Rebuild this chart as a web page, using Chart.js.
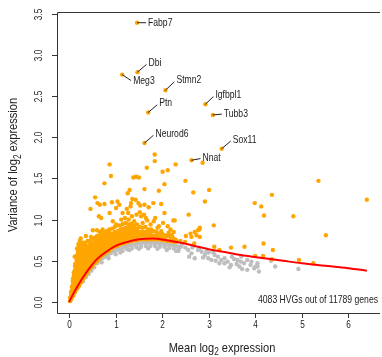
<!DOCTYPE html>
<html>
<head>
<meta charset="utf-8">
<script src="https://cdn.jsdelivr.net/npm/chart.js@4.4.1/dist/chart.umd.min.js"></script>
<style>
  html, body { margin: 0; padding: 0; background: #fff; }
  #wrap { width: 382px; height: 357px; }
</style>
</head>
<body>
<div id="wrap"><canvas id="hvgChart" width="382" height="357"></canvas></div>
<script>
// Fitted mean-variance trend (red line)
const trendMean = [0, 0.1, 0.2, 0.3, 0.45, 0.6, 0.8, 1.0, 1.2, 1.5, 1.8, 2.1, 2.4, 2.7, 3.0, 3.4, 3.8, 4.2, 4.6, 5.0, 5.5, 6.0, 6.4];
const trendVar  = [0, 0.11, 0.21, 0.30, 0.42, 0.52, 0.61, 0.68, 0.72, 0.76, 0.77, 0.75, 0.72, 0.68, 0.64, 0.60, 0.56, 0.53, 0.50, 0.47, 0.44, 0.41, 0.38];

// Dense HVG band just above the trend: [mean, [variances]]
const hvgColumns = [
  [0.02, [0.01, 0.05]],
  [0.04, [0.03, 0.075, 0.12]],
  [0.06, [0.05, 0.095, 0.14, 0.185]],
  [0.08, [0.07, 0.115, 0.16, 0.205, 0.25, 0.28]],
  [0.10, [0.09, 0.135, 0.18, 0.225, 0.27, 0.315, 0.36]],
  [0.13, [0.12, 0.165, 0.21, 0.255, 0.30, 0.345, 0.39, 0.435, 0.46]],
  [0.16, [0.15, 0.195, 0.24, 0.285, 0.33, 0.375, 0.42, 0.465, 0.51, 0.56]],
  [0.19, [0.18, 0.225, 0.27, 0.315, 0.36, 0.405, 0.45, 0.495, 0.54, 0.585, 0.62]],
  [0.22, [0.20, 0.245, 0.29, 0.335, 0.38, 0.425, 0.47, 0.515, 0.56, 0.605, 0.66]],
  [0.26, [0.24, 0.285, 0.33, 0.375, 0.42, 0.465, 0.51, 0.555, 0.60, 0.645, 0.70]],
  [0.30, [0.28, 0.325, 0.37, 0.415, 0.46, 0.505, 0.55, 0.595, 0.64, 0.685, 0.72]],
  [0.35, [0.32, 0.365, 0.41, 0.455, 0.50, 0.545, 0.59, 0.635, 0.68, 0.72]],
  [0.40, [0.36, 0.405, 0.45, 0.495, 0.54, 0.585, 0.63, 0.675, 0.74]],
  [0.45, [0.40, 0.445, 0.49, 0.535, 0.58, 0.625, 0.67, 0.715, 0.74]],
  [0.50, [0.43, 0.475, 0.52, 0.565, 0.61, 0.655, 0.70, 0.76]],
  [0.55, [0.47, 0.515, 0.56, 0.605, 0.65, 0.695, 0.74, 0.78]],
  [0.60, [0.50, 0.545, 0.59, 0.635, 0.68, 0.725, 0.77, 0.80]],
  [0.65, [0.53, 0.575, 0.62, 0.665, 0.71, 0.755, 0.80]],
  [0.70, [0.56, 0.605, 0.65, 0.695, 0.74, 0.785, 0.82]],
  [0.75, [0.58, 0.625, 0.67, 0.715, 0.76, 0.805, 0.84]],
  [0.80, [0.60, 0.645, 0.69, 0.735, 0.78, 0.825, 0.86]],
  [0.86, [0.62, 0.665, 0.71, 0.755, 0.80, 0.845, 0.88]],
  [0.92, [0.65, 0.695, 0.74, 0.785, 0.83, 0.89]],
  [0.98, [0.67, 0.715, 0.76, 0.805, 0.85, 0.91]],
  [1.04, [0.68, 0.725, 0.77, 0.815, 0.86, 0.93]],
  [1.10, [0.70, 0.745, 0.79, 0.835, 0.88, 0.93]],
  [1.16, [0.71, 0.755, 0.80, 0.845, 0.89, 0.95]],
  [1.22, [0.72, 0.765, 0.81, 0.855, 0.90, 0.96]],
  [1.28, [0.73, 0.775, 0.82, 0.865, 0.91, 0.94]],
  [1.34, [0.74, 0.785, 0.83, 0.875, 0.92, 0.95]],
  [1.40, [0.75, 0.795, 0.84, 0.885, 0.93]],
  [1.46, [0.75, 0.795, 0.84, 0.885, 0.94]],
  [1.52, [0.76, 0.805, 0.85, 0.91]],
  [1.58, [0.76, 0.805, 0.85, 0.90]],
  [1.64, [0.76, 0.805, 0.85, 0.91]],
  [1.70, [0.76, 0.805, 0.85, 0.88]],
  [1.76, [0.76, 0.805, 0.85, 0.88]],
  [1.82, [0.76, 0.805, 0.86]],
  [1.88, [0.76, 0.805, 0.85]],
  [1.94, [0.76, 0.80, 0.83]],
  [2.00, [0.75, 0.79, 0.83]],
  [2.06, [0.75, 0.81]],
  [2.12, [0.74, 0.80]],
  [2.18, [0.74, 0.79]],
  [2.24, [0.73, 0.77]],
  [2.30, [0.73, 0.75]]
];

// Scattered HVGs: [mean, variance]
const hvgSparse = [
  [0.12, 0.55], [0.17, 0.65], [0.20, 0.70], [0.23, 0.74], [0.25, 0.77], [0.36, 0.80], [0.47, 0.79],
  [0.51, 0.87], [0.60, 0.87], [0.66, 0.85], [0.72, 0.88],
  [0.46, 1.13], [0.56, 1.27], [0.61, 1.20], [0.64, 1.04], [0.69, 1.02], [0.66, 1.18], [0.76, 1.44],
  [0.76, 1.19], [0.87, 1.67], [0.90, 1.53], [0.87, 1.08], [0.92, 1.21], [0.94, 0.98], [1.01, 0.94],
  [1.01, 1.14], [1.04, 1.22], [1.08, 1.18], [1.12, 1.00], [1.15, 1.08], [1.24, 1.13], [1.27, 1.08],
  [1.26, 1.32], [1.30, 1.36], [1.32, 1.16], [1.33, 1.20], [1.36, 1.25], [1.43, 1.24], [1.38, 1.51],
  [1.44, 1.52], [1.50, 1.51], [1.49, 1.20], [1.53, 1.17], [1.52, 1.09], [1.55, 1.04], [1.61, 1.06],
  [1.62, 1.18], [1.62, 1.37], [1.65, 1.02], [1.68, 0.99], [1.67, 1.63], [1.71, 1.15], [1.81, 1.20],
  [1.82, 0.98], [1.85, 1.02], [1.84, 1.79], [1.84, 1.71], [1.93, 1.35], [1.93, 0.92], [1.98, 1.19],
  [2.01, 1.58], [2.05, 1.43], [2.05, 1.08], [2.12, 1.60], [2.14, 0.84], [2.07, 0.79], [2.21, 0.81],
  [2.25, 0.85], [2.24, 0.99], [2.27, 0.99], [2.29, 1.67], [2.28, 0.76], [2.39, 0.74], [2.49, 0.73],
  [2.50, 1.47], [2.51, 0.80], [2.57, 1.06], [2.61, 0.83], [2.63, 0.79], [2.67, 1.33], [2.69, 0.71],
  [2.70, 0.85], [2.74, 0.81], [2.77, 0.87], [2.80, 0.88], [2.81, 0.90], [2.81, 0.79], [2.92, 1.22],
  [3.01, 1.36], [3.11, 0.93], [3.12, 0.67], [3.23, 0.63], [3.48, 0.66], [3.77, 0.67], [3.99, 1.20],
  [4.00, 0.56], [4.13, 1.16], [4.17, 0.56], [4.18, 0.71], [4.19, 1.05], [4.36, 1.30], [4.36, 0.52],
  [4.38, 0.63], [4.82, 1.04], [4.94, 0.51], [5.25, 0.47], [5.36, 1.47], [5.52, 0.81], [6.40, 1.24],
  [2.87, 1.69],
  [1.20, 1.02], [1.28, 1.00], [1.35, 1.04], [1.40, 0.98], [1.45, 1.06], [1.58, 0.96], [1.75, 0.94],
  [1.90, 0.90], [1.98, 0.86], [2.02, 0.96], [2.12, 0.92], [2.18, 0.88]
];

// Non-HVG genes (grey), mostly just under the trend
const otherGenes = [
  [0.30, 0.25], [0.36, 0.30], [0.42, 0.34], [0.48, 0.38], [0.54, 0.42], [0.60, 0.47], [0.66, 0.50],
  [0.72, 0.53], [0.78, 0.55], [0.84, 0.57], [0.90, 0.595], [0.96, 0.615], [1.02, 0.63], [1.08, 0.645],
  [1.14, 0.655], [1.20, 0.67], [1.26, 0.68], [1.32, 0.69], [1.38, 0.695], [1.44, 0.705], [1.50, 0.71],
  [1.56, 0.715], [1.62, 0.72], [1.68, 0.72], [1.74, 0.72], [1.80, 0.72], [1.86, 0.72], [1.92, 0.715],
  [1.98, 0.71], [2.04, 0.71], [2.10, 0.70], [2.16, 0.695], [2.22, 0.69], [2.28, 0.685], [2.34, 0.675],
  [2.40, 0.67],
  [0.70, 0.48], [0.85, 0.53], [1.00, 0.58], [1.15, 0.62], [1.25, 0.64], [1.35, 0.65], [1.45, 0.665],
  [1.55, 0.67], [1.65, 0.68], [1.75, 0.68], [1.85, 0.68], [1.95, 0.67], [2.05, 0.67], [2.15, 0.655],
  [2.25, 0.65], [2.35, 0.635],
  [1.10, 0.60], [1.30, 0.63], [1.50, 0.645], [1.70, 0.65], [1.90, 0.645], [2.10, 0.63], [2.30, 0.62],
  [2.42, 0.69], [2.35, 0.62], [2.56, 0.63], [2.63, 0.59], [2.58, 0.55], [2.70, 0.53], [2.77, 0.63],
  [2.85, 0.61], [2.92, 0.57], [2.99, 0.53], [3.06, 0.51], [2.95, 0.61], [3.13, 0.57], [3.20, 0.55],
  [3.27, 0.51], [3.34, 0.53], [3.41, 0.49], [3.48, 0.45], [3.34, 0.47], [3.23, 0.47], [3.62, 0.51],
  [3.69, 0.49], [3.76, 0.47], [3.83, 0.51], [3.90, 0.45], [4.05, 0.43], [3.98, 0.41], [4.08, 0.37],
  [3.83, 0.39], [3.66, 0.43], [4.05, 0.47], [4.43, 0.43], [4.93, 0.40], [4.01, 0.43], [4.34, 0.50],
  [2.50, 0.66], [2.65, 0.66], [2.80, 0.65], [3.00, 0.60], [3.10, 0.60], [3.50, 0.55], [3.55, 0.52],
  [3.70, 0.55], [3.60, 0.46], [2.88, 0.54], [3.15, 0.50], [3.45, 0.42], [3.72, 0.40], [3.92, 0.49]
];

// Named top genes
const labelGenes = ['Fabp7', 'Dbi', 'Meg3', 'Stmn2', 'Igfbpl1', 'Tubb3', 'Ptn', 'Neurod6', 'Sox11', 'Nnat'];
const labelMean  = [1.46, 1.47, 1.14, 2.07, 2.93, 3.09, 1.70, 1.62, 3.28, 2.63];
const labelVar   = [3.39, 2.79, 2.76, 2.57, 2.40, 2.27, 2.30, 1.93, 1.86, 1.72];
// text anchor offset from each point, in pixels (layout only)
const labelOffset = [[11, 0], [11, -9], [11, 7], [11, -10], [10, -9], [11, -1], [11, -9], [11, -9], [11, -9], [11, -2]];

const xTicks = [0, 1, 2, 3, 4, 5, 6];
const yTicks = [0, 0.5, 1, 1.5, 2, 2.5, 3, 3.5];
const xTitle = [['Mean log', false], ['2', true], [' expression', false]];
const yTitle = [['Variance of log', false], ['2', true], [' expression', false]];
const noteText = '4083 HVGs out of 11789 genes';

const FONT = "'Liberation Sans', Arial, sans-serif";
const NARROW = 0.82;   // horizontal squeeze to get the condensed look of the original
const ORANGE = '#FFA500';
const GREY = '#BEBEBE';
const AXIS = '#333';

const hvgPoints = [];
hvgColumns.forEach(([x, ys]) => ys.forEach(y => hvgPoints.push({ x, y })));
hvgSparse.forEach(([x, y]) => hvgPoints.push({ x, y }));

function narrowText(ctx, text, x, y, angle, squeeze) {
    ctx.save();
    ctx.translate(x, y);
    if (angle) ctx.rotate(angle);
    ctx.scale(squeeze || NARROW, 1);
    ctx.fillText(text, 0, 0);
    ctx.restore();
}

// draw a string made of normal and subscript parts, centred on (cx, cy)
function drawSubText(ctx, parts, cx, cy, size, angle) {
    const main = size + 'px ' + FONT;
    const sub = Math.round(size * 0.72) + 'px ' + FONT;
    let total = 0;
    const widths = parts.map(([t, s]) => {
        ctx.font = s ? sub : main;
        const w = ctx.measureText(t).width;
        total += w;
        return w;
    });
    ctx.save();
    ctx.translate(cx, cy);
    ctx.rotate(angle);
    ctx.scale(NARROW, 1);
    ctx.textBaseline = 'middle';
    ctx.textAlign = 'left';
    let x = -total / 2;
    parts.forEach(([t, s], i) => {
        ctx.font = s ? sub : main;
        ctx.fillText(t, x, s ? size * 0.32 : 0);
        x += widths[i];
    });
    ctx.restore();
}

const axesPlugin = {
    id: 'rAxes',
    afterDraw(chart) {
        const ctx = chart.ctx;
        const { left, top, right, bottom } = chart.chartArea;
        const xs = chart.scales.x, ys = chart.scales.y;
        ctx.save();
        ctx.strokeStyle = AXIS;
        ctx.fillStyle = '#222';
        ctx.lineWidth = 1;

        // box (right side falls outside the canvas)
        ctx.beginPath();
        ctx.moveTo(right + 2, top + 0.5);
        ctx.lineTo(left + 0.5, top + 0.5);
        ctx.lineTo(left + 0.5, bottom + 0.5);
        ctx.lineTo(right + 2, bottom + 0.5);
        ctx.stroke();

        // x ticks
        ctx.font = '10.5px ' + FONT;
        ctx.textAlign = 'center';
        ctx.textBaseline = 'middle';
        xTicks.forEach(v => {
            const px = Math.round(xs.getPixelForValue(v)) + 0.5;
            ctx.beginPath();
            ctx.moveTo(px, bottom);
            ctx.lineTo(px, bottom + 5);
            ctx.stroke();
            narrowText(ctx, String(v), px, bottom + 12, 0, 0.78);
        });

        // y ticks, labels parallel to the axis
        yTicks.forEach(v => {
            const py = Math.round(ys.getPixelForValue(v)) + 0.5;
            ctx.beginPath();
            ctx.moveTo(left - 5, py);
            ctx.lineTo(left, py);
            ctx.stroke();
            narrowText(ctx, v.toFixed(1), left - 18, py, -Math.PI / 2, 0.78);
        });

        // axis titles
        drawSubText(ctx, xTitle, 222, 348, 13.5, 0);
        drawSubText(ctx, yTitle, 13.5, 165, 13.5, -Math.PI / 2);

        // HVG count note
        ctx.font = '10.5px ' + FONT;
        ctx.textAlign = 'right';
        ctx.textBaseline = 'middle';
        narrowText(ctx, noteText, 378, 300);

        // gene labels with leader lines
        const meta = chart.getDatasetMeta(0);
        ctx.font = '10.5px ' + FONT;
        ctx.textAlign = 'left';
        ctx.strokeStyle = '#222';
        meta.data.forEach((pt, i) => {
            const [dx, dy] = labelOffset[i];
            ctx.beginPath();
            ctx.moveTo(pt.x, pt.y);
            ctx.lineTo(pt.x + dx - 2, pt.y + dy * 0.85);
            ctx.stroke();
            narrowText(ctx, labelGenes[i], pt.x + dx, pt.y + dy);
        });
        ctx.restore();
    }
};

const chart = new Chart(document.getElementById('hvgChart').getContext('2d'), {
    type: 'scatter',
    data: {
        datasets: [
            {
                label: 'Top genes',
                data: labelMean.map((x, i) => ({ x, y: labelVar[i] })),
                backgroundColor: ORANGE,
                pointRadius: 2.2,
                borderWidth: 0,
                order: 0
            },
            {
                label: 'Trend',
                type: 'line',
                data: trendMean.map((x, i) => ({ x, y: trendVar[i] })),
                borderColor: '#FF0000',
                borderWidth: 2,
                pointRadius: 0,
                fill: false,
                cubicInterpolationMode: 'monotone',
                order: 1
            },
            {
                label: 'HVGs',
                data: hvgPoints,
                backgroundColor: ORANGE,
                pointRadius: 2.2,
                borderWidth: 0,
                order: 2
            },
            {
                label: 'Other genes',
                data: otherGenes.map(([x, y]) => ({ x, y })),
                backgroundColor: GREY,
                pointRadius: 2.2,
                borderWidth: 0,
                order: 3
            }
        ]
    },
    options: {
        responsive: false,
        animation: false,
        devicePixelRatio: 1,
        layout: { padding: { left: 57, top: 12, right: 0, bottom: 44 } },
        scales: {
            x: { type: 'linear', min: -0.26, max: 6.64, display: false },
            y: { type: 'linear', min: -0.134, max: 3.52, display: false }
        },
        plugins: {
            legend: { display: false },
            tooltip: { enabled: false }
        }
    },
    plugins: [axesPlugin]
});
</script>
</body>
</html>
